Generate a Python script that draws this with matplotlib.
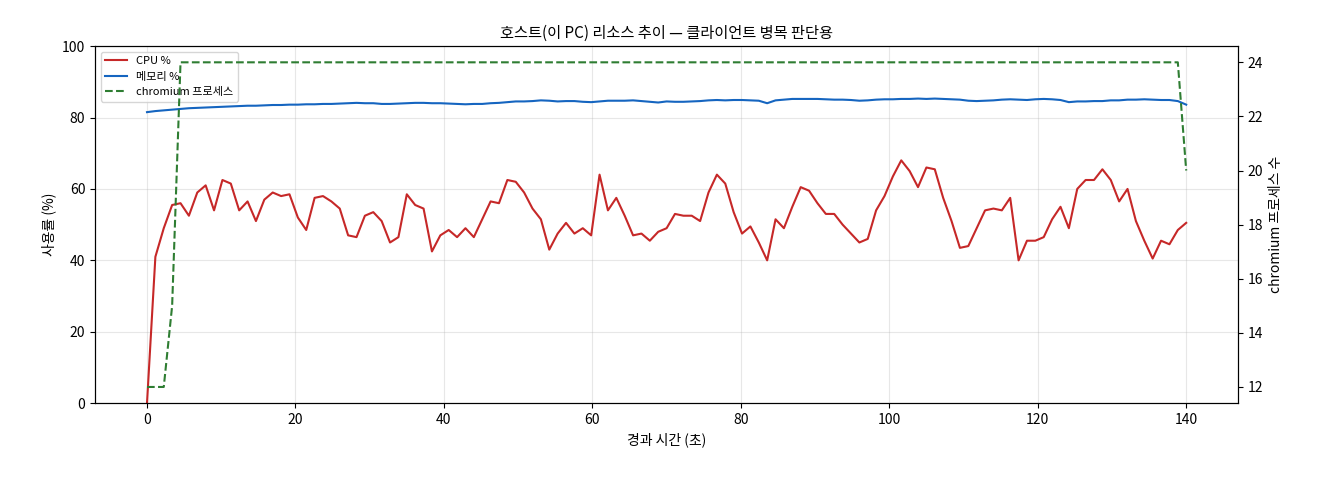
import numpy as np
import matplotlib
matplotlib.use('Agg')
import matplotlib.pyplot as plt

plt.rcParams['font.family'] = ['Noto Sans CJK KR', 'DejaVu Sans']

cpu = [0, 41, 49, 55.5, 56, 52.5, 59, 61, 54, 62.5, 61.5, 54, 56.5, 51, 57, 59, 58, 58.5, 52, 48.5,
       57.5, 58, 56.5, 54.5, 47, 46.5, 52.5, 53.5, 51, 45, 46.5, 58.5, 55.5, 54.5, 42.5, 47, 48.5, 46.5, 49, 46.5,
       51.5, 56.5, 56, 62.5, 62, 59, 54.5, 51.5, 43, 47.5, 50.5, 47.5, 49, 47, 64, 54, 57.5, 52.5, 47, 47.5,
       45.5, 48, 49, 53, 52.5, 52.5, 51, 59, 64, 61.5, 53.5, 47.5, 49.5, 45, 40, 51.5, 49, 55, 60.5, 59.5,
       56, 53, 53, 50, 47.5, 45, 46, 54, 58, 63.5, 68, 65, 60.5, 66, 65.5, 57.5, 51, 43.5, 44, 49,
       54, 54.5, 54, 57.5, 40, 45.5, 45.5, 46.5, 51.5, 55, 49, 60, 62.5, 62.5, 65.5, 62.5, 56.5, 60, 51, 45.5,
       40.5, 45.5, 44.5, 48.5, 50.5]
mem = [81.5, 81.8, 82.0, 82.2, 82.4, 82.6, 82.7, 82.8, 82.9, 83.0, 83.1, 83.2, 83.3, 83.3, 83.4, 83.5, 83.5, 83.6, 83.6, 83.7,
       83.7, 83.8, 83.8, 83.9, 84.0, 84.1, 84.0, 84.0, 83.8, 83.8, 83.9, 84.0, 84.1, 84.1, 84.0, 84.0, 83.9, 83.8, 83.7, 83.8,
       83.8, 84.0, 84.1, 84.3, 84.5, 84.5, 84.6, 84.8, 84.7, 84.5, 84.6, 84.6, 84.4, 84.3, 84.5, 84.7, 84.7, 84.7, 84.8, 84.6,
       84.4, 84.2, 84.5, 84.4, 84.4, 84.5, 84.6, 84.8, 84.9, 84.8, 84.9, 84.9, 84.8, 84.7, 84.0, 84.8, 85.0, 85.2, 85.2, 85.2,
       85.2, 85.1, 85.0, 85.0, 84.9, 84.7, 84.8, 85.0, 85.1, 85.1, 85.2, 85.2, 85.3, 85.2, 85.3, 85.2, 85.1, 85.0, 84.7, 84.6,
       84.7, 84.8, 85.0, 85.1, 85.0, 84.9, 85.1, 85.2, 85.1, 84.9, 84.3, 84.5, 84.5, 84.6, 84.6, 84.8, 84.8, 85.0, 85.0, 85.1,
       85.0, 84.9, 84.9, 84.6, 83.6]
procs = [12, 12, 12, 15, 24] + [24] * 119 + [20]
t = np.linspace(0, 140, len(cpu))

fig, ax = plt.subplots(figsize=(13.2, 4.8), dpi=100)
l1, = ax.plot(t, cpu, color='#c62828', linewidth=1.5, label='CPU %')
l2, = ax.plot(t, mem, color='#1565c0', linewidth=1.5, label='메모리 %')
ax.set_ylim(0, 100)
ax.set_xlim(-7, 147)
ax.set_xlabel('경과 시간 (초)')
ax.set_ylabel('사용률 (%)')
ax.grid(True, alpha=0.3)

ax2 = ax.twinx()
l3, = ax2.plot(t, procs, color='#2e7d32', linewidth=1.5, linestyle='--', label='chromium 프로세스')
ax2.set_ylim(11.4, 24.6)
ax2.set_ylabel('chromium 프로세스 수')

ax.legend(handles=[l1, l2, l3], loc='upper left', fontsize=8)
ax.set_title('호스트(이 PC) 리소스 추이 — 클라이언트 병목 판단용', fontsize=11)

plt.subplots_adjust(left=0.072, right=0.938, top=0.904, bottom=0.16)
plt.savefig('out.png', dpi=100)
